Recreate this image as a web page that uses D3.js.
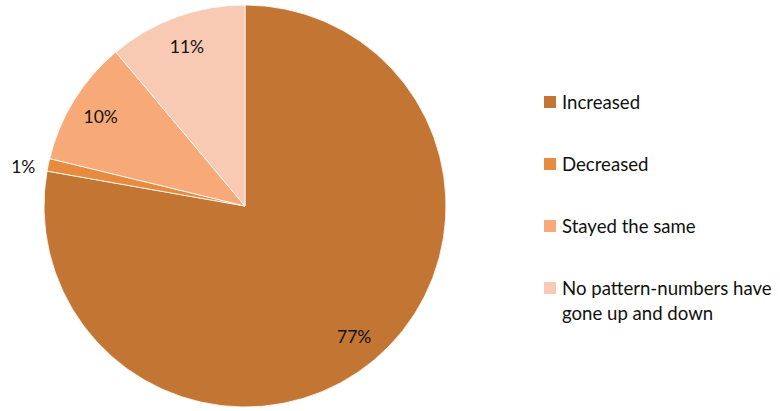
<!DOCTYPE html>
<html>
<head>
<meta charset="utf-8">
<script src="https://cdn.jsdelivr.net/npm/d3@7"></script>
<style>
  html, body { margin: 0; padding: 0; background: #fff; }
  svg text { font-family: Lato, "Open Sans", sans-serif; fill: #111; }
</style>
</head>
<body>
<svg id="chart" width="780" height="411"></svg>
<script>
// Share of responses per category (percent)
const categories = ["Increased", "Decreased", "Stayed the same", "No pattern-numbers have gone up and down"];
const values = [77, 1, 10, 11];
const colors = ["#C37534", "#E78C3F", "#F7A977", "#F8CAB3"];
const legendLines = [["Increased"], ["Decreased"], ["Stayed the same"], ["No pattern-numbers have", "gone up and down"]];

const svg = d3.select("#chart");
const cx = 245, cy = 206, radius = 201;

const data = categories.map((c, i) => ({ category: c, value: values[i], color: colors[i] }));

const pie = d3.pie().value(d => d.value).sort(null);
const arcs = pie(data);
const arc = d3.arc().innerRadius(0).outerRadius(radius);

const g = svg.append("g").attr("transform", `translate(${cx},${cy})`);

g.selectAll("path.slice")
  .data(arcs)
  .join("path")
  .attr("class", "slice")
  .attr("d", arc)
  .attr("fill", d => d.data.color)
  .attr("stroke", "#fff")
  .attr("stroke-width", 0.8);

// Percentage labels: inside for large slices, just outside for the tiny one
const inner = d3.arc().innerRadius(radius * 0.845).outerRadius(radius * 0.845);
const outerR = radius * 1.12;
function labelPos(d) {
  if (d.data.value < 5) {
    const a = d.startAngle;
    return [outerR * Math.sin(a), -outerR * Math.cos(a)];
  }
  return inner.centroid(d);
}

g.selectAll("text.pct")
  .data(arcs)
  .join("text")
  .attr("class", "pct")
  .attr("transform", d => `translate(${labelPos(d)})`)
  .attr("text-anchor", "middle")
  .attr("dominant-baseline", "central")
  .style("font-size", "17.5px")
  .text(d => d.data.value + "%");

// Legend
const legend = svg.append("g").attr("transform", "translate(544,0)");
const legendY = d3.scalePoint().domain(categories).range([102, 288]);

const item = legend.selectAll("g.item")
  .data(data)
  .join("g")
  .attr("class", "item")
  .attr("transform", d => `translate(0,${legendY(d.category)})`);

item.append("rect")
  .attr("x", 0).attr("y", -6)
  .attr("width", 12).attr("height", 12)
  .attr("fill", d => d.color);

item.append("text")
  .attr("x", 18)
  .attr("y", 0)
  .style("font-size", "18.6px")
  .selectAll("tspan")
  .data((d, i) => legendLines[i])
  .join("tspan")
  .attr("x", 18)
  .attr("dy", (t, j) => j === 0 ? "0.36em" : "1.35em")
  .text(t => t);
</script>
</body>
</html>
